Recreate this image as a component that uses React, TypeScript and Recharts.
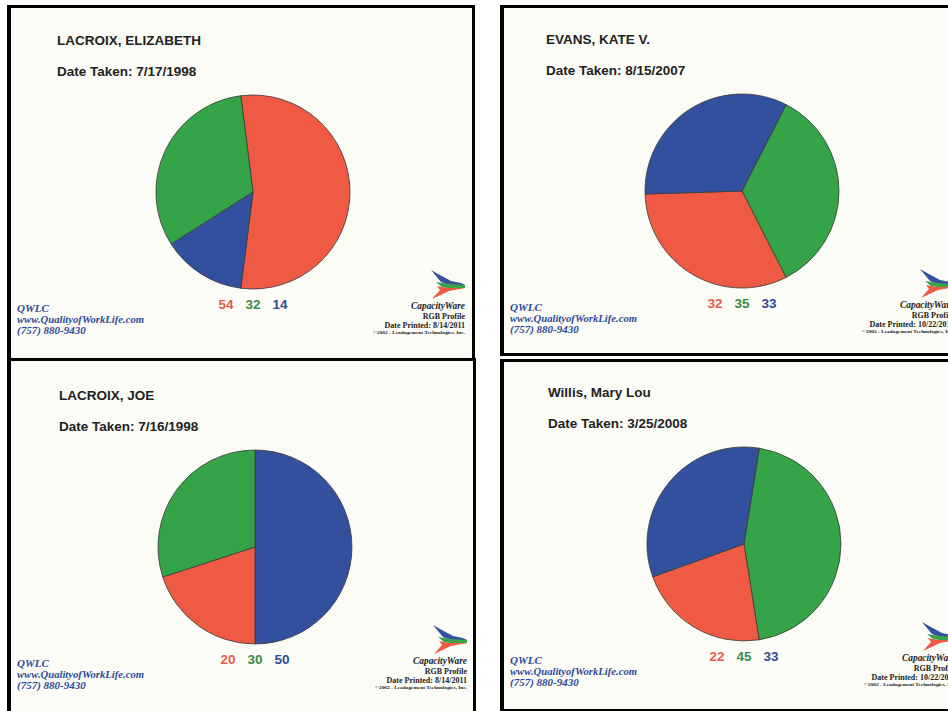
import { PieChart, Pie, Cell } from 'recharts'

// RGB profile scores, one entry per card
const names = ['LACROIX, ELIZABETH', 'EVANS, KATE V.', 'LACROIX, JOE', 'Willis, Mary Lou']
const datesTaken = ['7/17/1998', '8/15/2007', '7/16/1998', '3/25/2008']
const datesPrinted = ['8/14/2011', '10/22/2011', '8/14/2011', '10/22/2011']
const redScores = [54, 32, 20, 22]
const greenScores = [32, 35, 30, 45]
const blueScores = [14, 33, 50, 33]
// clockwise slice order on each pie (largest slice first, centred at 3 o'clock)
const sliceOrders = [
  ['R', 'B', 'G'],
  ['G', 'R', 'B'],
  ['B', 'R', 'G'],
  ['G', 'R', 'B'],
]

const SLICE_COLORS: Record<string, string> = { R: '#ee5a44', G: '#35a347', B: '#33509f' }
const TEXT_COLORS: Record<string, string> = { R: '#e85a48', G: '#3a8c45', B: '#2d4a92' }
const BLUE_TEXT = '#2c4a9a'
const SANS = '"Liberation Sans", Arial, sans-serif'
const SERIF = '"Liberation Serif", "Times New Roman", serif'

const cards = [
  { left: 7, top: 5, width: 468, height: 356, cx: 246, cy: 187 },
  { left: 500, top: 5, width: 470, height: 351, cx: 242, cy: 186 },
  { left: 7, top: 358, width: 469, height: 362, cx: 248, cy: 189 },
  { left: 500, top: 359, width: 470, height: 353, cx: 244, cy: 185 },
]

function scoreOf(key: string, i: number) {
  if (key === 'R') return redScores[i]
  if (key === 'G') return greenScores[i]
  return blueScores[i]
}

// little CapacityWare bird mark
function Logo({ x, y }: { x: number; y: number }) {
  return (
    <g transform={`translate(${x},${y})`}>
      <polygon points="0,0 7,4 20,11 30,13 34,15 18,15 10,12" fill="#34509f" />
      <polygon points="5,12 18,14 34,15 34,18 22,19 11,17" fill="#3aa34a" />
      <polygon points="1,29 9,20 6,16 16,18 34,18 18,21" fill="#ee5a44" />
    </g>
  )
}

function Card({ idx }: { idx: number }) {
  const c = cards[idx]
  const data = sliceOrders[idx].map(k => ({ key: k, value: scoreOf(k, idx) }))
  const start = (180 * data[0].value) / 100
  const { cx, cy } = c
  const rightX = cx + 212

  return (
    <div
      style={{
        position: 'absolute',
        left: c.left,
        top: c.top,
        width: c.width,
        height: c.height,
        boxSizing: 'border-box',
        border: '3px solid #000',
        borderLeftWidth: 4,
        background: '#fcfcf6',
        overflow: 'hidden',
      }}
    >
      <div style={{ position: 'absolute', left: -4, top: -3 }}>
        <PieChart width={c.width} height={c.height} margin={{ top: 0, right: 0, bottom: 0, left: 0 }}>
          <Pie
            data={data}
            dataKey="value"
            nameKey="key"
            cx={cx}
            cy={cy}
            outerRadius={97}
            startAngle={start}
            endAngle={start - 360}
            stroke="#3a3a3a"
            strokeWidth={0.8}
            isAnimationActive={false}
          >
            {data.map(d => (
              <Cell key={d.key} fill={SLICE_COLORS[d.key]} />
            ))}
          </Pie>
        </PieChart>
      </div>
      <svg
        width={c.width}
        height={c.height}
        style={{ position: 'absolute', left: -4, top: -3, pointerEvents: 'none' }}
      >
        <text x={cx - 196} y={cy - 147} fontFamily={SANS} fontWeight="bold" fontSize={13.5} fill="#222">
          {names[idx]}
        </text>
        <text x={cx - 196} y={cy - 116} fontFamily={SANS} fontWeight="bold" fontSize={13.5} fill="#222">
          Date Taken: {datesTaken[idx]}
        </text>

        {['R', 'G', 'B'].map((k, j) => (
          <text
            key={k}
            x={cx - 27 + j * 27}
            y={cy + 117}
            textAnchor="middle"
            fontFamily={SANS}
            fontWeight="bold"
            fontSize={13.5}
            fill={TEXT_COLORS[k]}
          >
            {scoreOf(k, idx)}
          </text>
        ))}

        <g fontFamily={SERIF} fontWeight="bold" fontStyle="italic" fontSize={11} fill={BLUE_TEXT}>
          <text x={10} y={cy + 120}>QWLC</text>
          <text x={10} y={cy + 131} textLength={127} lengthAdjust="spacingAndGlyphs">
            www.QualityofWorkLife.com
          </text>
          <text x={10} y={cy + 142}>(757) 880-9430</text>
        </g>

        <Logo x={rightX - 34} y={cy + 78} />
        <g fontFamily={SERIF} fontWeight="bold" fill="#222" textAnchor="end">
          <text x={rightX} y={cy + 117} fontStyle="italic" fontSize={10} textLength={54} lengthAdjust="spacingAndGlyphs">
            CapacityWare
          </text>
          <text x={rightX} y={cy + 127} fontSize={8}>RGB Profile</text>
          <text x={rightX} y={cy + 136} fontSize={8}>Date Printed: {datesPrinted[idx]}</text>
          <text x={rightX} y={cy + 142} fontSize={5} textLength={92} lengthAdjust="spacingAndGlyphs">
            ©2002 - Leadagement Technologies, Inc.
          </text>
        </g>
      </svg>
    </div>
  )
}

export default function App() {
  return (
    <div
      style={{
        position: 'fixed',
        left: 0,
        top: 0,
        width: 948,
        height: 711,
        background: '#ffffff',
        overflow: 'hidden',
      }}
    >
      {cards.map((_, i) => (
        <Card key={i} idx={i} />
      ))}
    </div>
  )
}
